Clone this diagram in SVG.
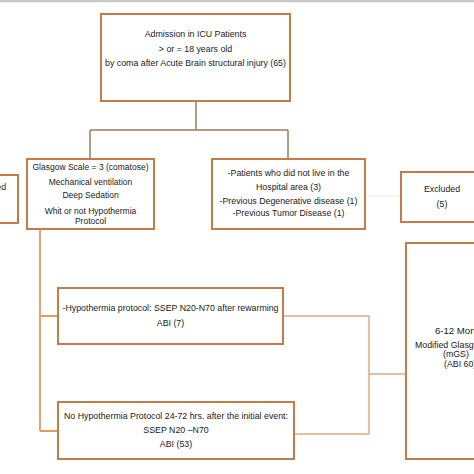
<svg xmlns="http://www.w3.org/2000/svg" width="474" height="474" viewBox="0 0 474 474">
<style>
.box{fill:#fff;stroke:#c27c48;stroke-width:2}
.t{font-family:"Liberation Sans",Arial,sans-serif;font-size:8.8px;fill:#1a1a1a;text-anchor:middle}
.g{font-size:8.5px}
.ts{font-family:"Liberation Sans",Arial,sans-serif;font-size:8.8px;fill:#1a1a1a}
.c1{fill:none;stroke:#9c7b5c;stroke-width:1.5}
.c2{fill:none;stroke:#e29a62;stroke-width:1.8}
.c3{fill:none;stroke:#dcae80;stroke-width:1.5}
.c4{fill:none;stroke:#f1e9df;stroke-width:1.2}
</style>
<rect x="0" y="0" width="474" height="474" fill="#fff"/>
<rect x="0" y="0" width="474" height="2.2" fill="#c8c8c8"/>
<g id="connectors">
<path class="c1" d="M196 101 V130 M90 130 H288 M90 130 V159 M288 130 V159"/>
<path class="c4" d="M365 196 H401"/>
<path class="c2" d="M40 229 V431 M40 316 H58 M40 431 H58"/>
<path class="c3" d="M283 316 H369 V434 H290 M369 374 H406"/>
</g>
<g id="admission">
<rect class="box" x="101" y="14" width="189" height="87"/>
<text class="t" x="195.5" y="37">Admission in ICU Patients</text>
<text class="t" x="195.5" y="52">&gt; or = 18 years old</text>
<text class="t" x="195.5" y="66">by coma after Acute Brain structural injury (65)</text>
</g>
<g id="glasgow">
<rect class="box" x="27" y="159" width="127" height="70"/>
<text class="t g" x="90.5" y="170">Glasgow Scale = 3 (comatose)</text>
<text class="t g" x="90.5" y="185">Mechanical ventilation</text>
<text class="t g" x="90.5" y="198">Deep Sedation</text>
<text class="t g" x="90.5" y="214">Whit or not Hypothermia</text>
<text class="t g" x="90.5" y="224">Protocol</text>
</g>
<g id="excluded-left">
<rect class="box" x="-60" y="175" width="78" height="48"/>
<text class="t" x="-12" y="190">Excluded</text>
</g>
<g id="criteria">
<rect class="box" x="212" y="159" width="153" height="70"/>
<text class="t" x="288.5" y="176">-Patients who did not live in the</text>
<text class="t" x="288.5" y="190">Hospital area (3)</text>
<text class="t" x="288.5" y="204">-Previous Degenerative disease (1)</text>
<text class="t" x="288.5" y="216">-Previous Tumor Disease (1)</text>
</g>
<g id="excluded-right">
<rect class="box" x="401" y="172" width="90" height="50"/>
<text class="t" x="442" y="192">Excluded</text>
<text class="t" x="442" y="207">(5)</text>
</g>
<g id="outcome">
<rect class="box" x="406" y="243" width="90" height="216"/>
<text class="ts" x="435" y="334" style="font-size:9.6px">6-12 Months</text>
<text class="ts" x="415" y="348">Modified Glasgow</text>
<text class="ts" x="443" y="357">(mGS)</text>
<text class="ts" x="444" y="367">(ABI 60)</text>
</g>
<g id="hypothermia">
<rect class="box" x="58" y="288" width="225" height="56"/>
<text class="t" x="170.5" y="311">-Hypothermia protocol: SSEP N20-N70  after rewarming</text>
<text class="t" x="170.5" y="326">ABI (7)</text>
</g>
<g id="no-hypothermia">
<rect class="box" x="58" y="402" width="236" height="57"/>
<text class="t" x="176" y="419">No Hypothermia Protocol 24-72 hrs. after the initial event:</text>
<text class="t" x="176" y="433">SSEP N20 –N70</text>
<text class="t" x="176" y="447">ABI (53)</text>
</g>
</svg>
